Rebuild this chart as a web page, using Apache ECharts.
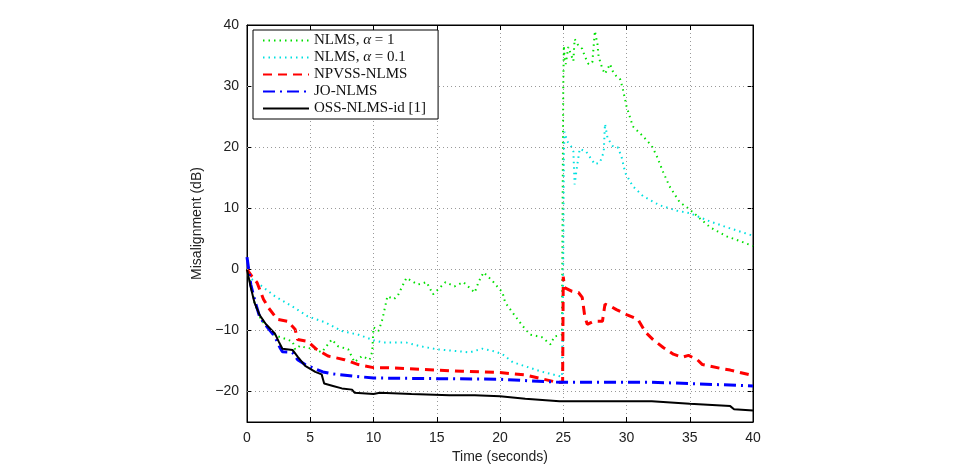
<!DOCTYPE html>
<html>
<head>
<meta charset="utf-8">
<script src="https://cdn.jsdelivr.net/npm/echarts@6/dist/echarts.min.js"></script>
<style>
	html, body { margin: 0; padding: 0; background: #fff; }
	#chart { width: 966px; height: 464px; }
</style>
</head>
<body>
<div id="chart"></div>
<script>
/*曲线数据: 时间(秒) / 失调(dB)*/
var greenT = [0, 0.3, 0.6, 1.0, 1.4, 2.2, 3.6, 3.8, 4.2, 4.6, 5.4, 5.9, 6.2, 6.7, 7.2, 8.0, 8.5, 9.1, 9.7, 9.9, 10.0, 10.4, 10.7, 11.1, 11.6, 11.9, 12.6, 13.5, 14.2, 14.7, 15.7, 16.4, 17.1, 18.0, 18.3, 18.7, 19.4, 20.2, 20.4, 21.0, 21.8, 22.4, 23.3, 24.0, 24.3, 24.9, 25.0, 25.05, 25.1, 25.2, 25.4, 25.8, 25.9, 26.2, 26.5, 26.7, 27.0, 27.3, 27.5, 27.7, 27.8, 28.1, 28.3, 28.7, 28.9, 29.2, 29.5, 29.7, 30.0, 30.5, 31.3, 32.0, 32.4, 32.9, 33.4, 34.2, 35.0, 35.6, 36.6, 37.9, 39.0, 40];
var greenV = [0, -2.5, -5.5, -7.8, -9, -10.8, -11.8, -13.1, -12.5, -12.8, -13.1, -13.6, -12.8, -11.5, -12.6, -13.1, -15.2, -14.2, -14.8, -13.5, -9.5, -10.1, -8.2, -4.4, -4.9, -4.4, -1.4, -2.5, -2.1, -4.1, -2.1, -2.8, -2.1, -3.8, -2.1, -0.5, -1.9, -3.8, -5.4, -7.1, -9.3, -10.7, -11.1, -12.3, -11, -10.7, 30, 36.6, 34.9, 33.6, 36.4, 34.1, 37.7, 36.6, 36.1, 34.9, 33.6, 33.9, 39, 36.9, 34.8, 32.8, 32, 33.6, 32.5, 31.6, 31.1, 29.6, 26.7, 23.4, 21.8, 20.2, 18.5, 15.9, 13.6, 11, 9.8, 8.7, 6.9, 5.4, 4.6, 3.8];

var cyanT = [0, 0.3, 1.2, 2.2, 3.6, 4.8, 6.2, 7.5, 8.8, 10.0, 10.8, 12.6, 13.7, 15.0, 16.6, 17.6, 18.6, 19.5, 20.2, 21.0, 23.2, 24.9, 25.0, 25.05, 25.1, 25.3, 25.6, 25.8, 25.9, 26.1, 26.3, 26.8, 27.5, 27.9, 28.2, 28.3, 28.5, 28.9, 29.3, 29.6, 29.9, 30.5, 31.3, 32.6, 34.0, 35.0, 36.4, 37.9, 40];
var cyanV = [0, -1.5, -2.8, -4.4, -6.1, -7.7, -8.7, -10.1, -10.7, -11.6, -12, -12, -12.6, -13.1, -13.4, -13.6, -13, -13.4, -13.9, -15.2, -16.7, -17.6, 2, 19, 22.5, 21, 20.2, 19.3, 13.9, 17, 19.7, 19.3, 17.2, 17.5, 19.2, 23.8, 21.5, 20.2, 20, 18.5, 15.8, 13.6, 12, 10.5, 9.6, 9.2, 8, 6.9, 5.5];

var redT = [0, 0.4, 0.8, 1.3, 1.7, 2.4, 3.2, 3.8, 4.0, 4.8, 5.5, 6.4, 7.7, 8.8, 10.0, 11.0, 14.0, 17.0, 20.0, 22.0, 24.5, 24.95, 25.0, 25.1, 25.7, 26.2, 26.5, 26.7, 26.9, 27.4, 28.1, 28.3, 28.7, 29.2, 30.0, 30.9, 31.5, 32.1, 32.9, 33.7, 34.4, 34.9, 35.6, 36.0, 37.4, 38.2, 40];
var redV = [0, -1.2, -2.2, -4.9, -6.3, -8.2, -8.5, -9.8, -11.5, -11.8, -13.1, -14.2, -14.8, -15.6, -16.1, -16.1, -16.4, -16.7, -16.9, -17.3, -18.5, -18.5, -1.2, -3, -3.6, -3.8, -4.6, -7.7, -9, -8.5, -8.5, -5.7, -6, -6.6, -7.4, -8.2, -10.3, -11.5, -12.8, -13.9, -14.4, -14.1, -14.8, -15.6, -16.2, -16.5, -17.4];

var blueT = [0, 0.1, 0.3, 0.6, 1.0, 1.5, 2.2, 2.6, 2.8, 3.6, 4.0, 4.6, 5.4, 6.0, 6.7, 8.5, 10.0, 15.0, 20.0, 24.7, 32.0, 35.0, 40];
var blueV = [2, 0.5, -2.5, -5, -7.8, -9.2, -11, -12.8, -13.5, -13.6, -14.8, -15.6, -16.3, -16.8, -17.1, -17.5, -17.8, -17.9, -18, -18.5, -18.5, -18.7, -19.1];

var blackT = [0, 0.1, 0.3, 0.6, 1.0, 1.5, 2.2, 2.5, 2.8, 3.6, 4.0, 4.6, 5.4, 5.9, 6.1, 6.8, 7.5, 8.3, 8.5, 10.0, 10.5, 13.0, 16.0, 18.0, 20.0, 22.0, 24.7, 30.0, 32.0, 35.0, 38.2, 38.5, 40];
var blackV = [0, -1, -3, -5.5, -7.5, -9, -10.5, -11.8, -13, -13.2, -14.3, -15.8, -16.8, -17.2, -18.7, -19.1, -19.5, -19.7, -20.2, -20.4, -20.2, -20.4, -20.6, -20.6, -20.8, -21.2, -21.6, -21.6, -21.6, -22, -22.4, -22.9, -23.1];

/*坐标轴刻度*/
var yTicks = [-20, -10, 0, 10, 20, 30, 40];
var yGrid = [-20, -10, 0, 10, 20, 30];

var seriesNames = ['NLMS, α = 1', 'NLMS, α = 0.1', 'NPVSS-NLMS', 'JO-NLMS', 'OSS-NLMS-id [1]'];

function pairs(t, v) {
	var out = [];
	for(var i = 0; i < t.length; i++) {
		out.push([t[i], v[i]]);
	}
	return out;
}

function minusFmt(v) {
	return String(v).replace('-', '\u2212');
}

var myChart = echarts.init(document.getElementById('chart'));

var labelFont = {
	fontFamily: '"Liberation Sans", Arial, sans-serif',
	fontSize: 14,
	color: '#222'
};

var option = {
	animation: false,
	backgroundColor: '#fff',
	grid: {
		left: 247,
		right: 213,
		top: 25,
		bottom: 42,
		outerBoundsMode: 'none',
		containLabel: false,
		show: true,
		borderColor: '#000',
		borderWidth: 1
	},
	legend: {
		orient: 'vertical',
		left: 253,
		top: 30,
		padding: [3, 12, 3, 9],
		itemGap: 2,
		itemWidth: 46,
		itemHeight: 14,
		backgroundColor: '#fff',
		borderColor: '#000',
		borderWidth: 1,
		z: 10,
		data: seriesNames,
		itemStyle: { opacity: 0 },
		formatter: function(name) {
			if(name.indexOf('α') >= 0) {
				var parts = name.split('α');
				return '{a|' + parts[0] + '}{i|α}{a|' + parts[1] + '}';
			}
			return '{a|' + name + '}';
		},
		textStyle: {
			fontFamily: '"Liberation Serif", "Times New Roman", serif',
			fontSize: 15,
			color: '#111',
			rich: {
				a: {
					fontFamily: '"Liberation Serif", "Times New Roman", serif',
					fontSize: 15,
					color: '#111'
				},
				i: {
					fontFamily: '"Liberation Serif", "Times New Roman", serif',
					fontStyle: 'italic',
					fontSize: 15,
					color: '#111'
				}
			}
		}
	},
	xAxis: [{
		type: 'value',
		min: 0,
		max: 40,
		interval: 5,
		name: 'Time (seconds)',
		nameLocation: 'middle',
		nameGap: 23,
		nameTextStyle: labelFont,
		axisLine: { show: true, onZero: false, lineStyle: { color: '#000', width: 1 } },
		axisTick: { show: true, inside: true, length: 5, lineStyle: { color: '#000' } },
		axisLabel: Object.assign({ margin: 9 }, labelFont),
		splitLine: { show: true, lineStyle: { color: '#999', type: [1, 3], width: 1 } }
	}, {
		type: 'value',
		position: 'top',
		min: 0,
		max: 40,
		interval: 5,
		axisLine: { show: true, onZero: false, lineStyle: { color: '#000', width: 1 } },
		axisTick: { show: true, inside: true, length: 5, lineStyle: { color: '#000' } },
		axisLabel: { show: false },
		splitLine: { show: false }
	}],
	yAxis: [{
		type: 'value',
		min: -25,
		max: 40,
		interval: 5,
		name: 'Misalignment (dB)',
		nameLocation: 'middle',
		nameGap: 31,
		nameTextStyle: labelFont,
		axisLine: { show: true, onZero: false, lineStyle: { color: '#000', width: 1 } },
		axisTick: { show: true, inside: true, length: 5, customValues: yTicks, lineStyle: { color: '#000' } },
		axisLabel: Object.assign({ margin: 8, customValues: yTicks, formatter: minusFmt }, labelFont),
		splitLine: { show: false }
	}, {
		type: 'value',
		position: 'right',
		min: -25,
		max: 40,
		interval: 5,
		axisLine: { show: true, onZero: false, lineStyle: { color: '#000', width: 1 } },
		axisTick: { show: true, inside: true, length: 5, customValues: yTicks, lineStyle: { color: '#000' } },
		axisLabel: { show: false },
		splitLine: { show: false }
	}],
	series: [{
		name: seriesNames[0],
		type: 'line',
		showSymbol: false,
		symbol: 'none',
		data: pairs(greenT, greenV),
		lineStyle: { color: '#00e000', width: 2, type: [1.5, 4] },
		itemStyle: { color: '#00e000' },
		markLine: {
			silent: true,
			symbol: 'none',
			label: { show: false },
			lineStyle: { color: '#999', type: [1, 3], width: 1 },
			data: yGrid.map(function(v) { return { yAxis: v }; })
		}
	}, {
		name: seriesNames[1],
		type: 'line',
		showSymbol: false,
		symbol: 'none',
		data: pairs(cyanT, cyanV),
		lineStyle: { color: '#00e0e0', width: 2, type: [1.5, 4] },
		itemStyle: { color: '#00e0e0' }
	}, {
		name: seriesNames[2],
		type: 'line',
		showSymbol: false,
		symbol: 'none',
		data: pairs(redT, redV),
		lineStyle: { color: '#ff0000', width: 3, type: [9, 6] },
		itemStyle: { color: '#ff0000' }
	}, {
		name: seriesNames[3],
		type: 'line',
		showSymbol: false,
		symbol: 'none',
		data: pairs(blueT, blueV),
		lineStyle: { color: '#0000ff', width: 3, type: [12, 5, 2, 5] },
		itemStyle: { color: '#0000ff' }
	}, {
		name: seriesNames[4],
		type: 'line',
		showSymbol: false,
		symbol: 'none',
		data: pairs(blackT, blackV),
		lineStyle: { color: '#000', width: 2 },
		itemStyle: { color: '#000' }
	}]
};

myChart.setOption(option);
</script>
</body>
</html>
